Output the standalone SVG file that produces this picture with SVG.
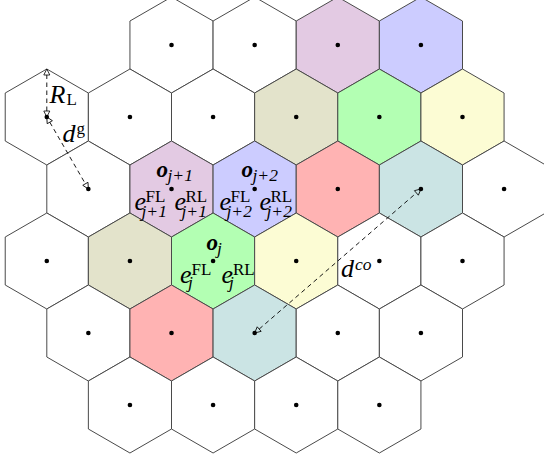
<svg xmlns="http://www.w3.org/2000/svg" xmlns:xlink="http://www.w3.org/1999/xlink" width="544" height="461" viewBox="0 0 544 461">
<style>
.hx{stroke:#4a4a4a;stroke-width:1}
.w{fill:#ffffff}.pu{fill:#E3CAE3}.bl{fill:#CCCCFF}.ol{fill:#E3E3CB}.gr{fill:#B3FFB3}.ye{fill:#FCFCD4}.re{fill:#FFB3B3}.te{fill:#CBE4E4}
.dot{fill:#000}
.conn path{fill:none;stroke:#000;stroke-width:0.9;stroke-dasharray:4.5 3.5}
text{font-family:"Liberation Serif","Times New Roman",serif;fill:#000}
.m{font-style:italic;font-size:26px}
.b{font-style:italic;font-weight:bold;font-size:23px}
.s{font-style:normal;font-weight:normal;font-size:17px}
.si{font-style:italic;font-weight:normal;font-size:17.5px}
</style>
<defs>
<polygon id="hex" points="0,-48 41.57,-24 41.57,24 0,48 -41.57,24 -41.57,-24"/>
<marker id="ah" viewBox="-1 -4 9 8" refX="0" refY="0" markerWidth="9" markerHeight="8" markerUnits="userSpaceOnUse" orient="auto-start-reverse">
<path d="M0,-3 L6,0 L0,3 Z" fill="none" stroke="#000" stroke-width="0.8" stroke-dasharray="none"/>
</marker>
</defs>
<g id="cells">
<g id="c0-1" transform="translate(171.51,45)"><use xlink:href="#hex" class="hx w"/><circle class="dot" r="2.3"/></g>
<g id="c0-2" transform="translate(254.65,45)"><use xlink:href="#hex" class="hx w"/><circle class="dot" r="2.3"/></g>
<g id="c0-3" transform="translate(337.79,45)"><use xlink:href="#hex" class="hx pu"/><circle class="dot" r="2.3"/></g>
<g id="c0-4" transform="translate(420.93,45)"><use xlink:href="#hex" class="hx bl"/><circle class="dot" r="2.3"/></g>
<g id="c1-0" transform="translate(46.8,117)"><use xlink:href="#hex" class="hx w"/><circle class="dot" r="2.3"/></g>
<g id="c1-1" transform="translate(129.94,117)"><use xlink:href="#hex" class="hx w"/><circle class="dot" r="2.3"/></g>
<g id="c1-2" transform="translate(213.08,117)"><use xlink:href="#hex" class="hx w"/><circle class="dot" r="2.3"/></g>
<g id="c1-3" transform="translate(296.22,117)"><use xlink:href="#hex" class="hx ol"/><circle class="dot" r="2.3"/></g>
<g id="c1-4" transform="translate(379.36,117)"><use xlink:href="#hex" class="hx gr"/><circle class="dot" r="2.3"/></g>
<g id="c1-5" transform="translate(462.5,117)"><use xlink:href="#hex" class="hx ye"/><circle class="dot" r="2.3"/></g>
<g id="c2-0" transform="translate(88.37,189)"><use xlink:href="#hex" class="hx w"/><circle class="dot" r="2.3"/></g>
<g id="c2-1" transform="translate(171.51,189)"><use xlink:href="#hex" class="hx pu"/><circle class="dot" r="2.3"/></g>
<g id="c2-2" transform="translate(254.65,189)"><use xlink:href="#hex" class="hx bl"/><circle class="dot" r="2.3"/></g>
<g id="c2-3" transform="translate(337.79,189)"><use xlink:href="#hex" class="hx re"/><circle class="dot" r="2.3"/></g>
<g id="c2-4" transform="translate(420.93,189)"><use xlink:href="#hex" class="hx te"/><circle class="dot" r="2.3"/></g>
<g id="c2-5" transform="translate(504.07,189)"><use xlink:href="#hex" class="hx w"/><circle class="dot" r="2.3"/></g>
<g id="c3-0" transform="translate(46.8,261)"><use xlink:href="#hex" class="hx w"/><circle class="dot" r="2.3"/></g>
<g id="c3-1" transform="translate(129.94,261)"><use xlink:href="#hex" class="hx ol"/><circle class="dot" r="2.3"/></g>
<g id="c3-2" transform="translate(213.08,261)"><use xlink:href="#hex" class="hx gr"/><circle class="dot" r="2.3"/></g>
<g id="c3-3" transform="translate(296.22,261)"><use xlink:href="#hex" class="hx ye"/><circle class="dot" r="2.3"/></g>
<g id="c3-4" transform="translate(379.36,261)"><use xlink:href="#hex" class="hx w"/><circle class="dot" r="2.3"/></g>
<g id="c3-5" transform="translate(462.5,261)"><use xlink:href="#hex" class="hx w"/><circle class="dot" r="2.3"/></g>
<g id="c4-0" transform="translate(88.37,333)"><use xlink:href="#hex" class="hx w"/><circle class="dot" r="2.3"/></g>
<g id="c4-1" transform="translate(171.51,333)"><use xlink:href="#hex" class="hx re"/><circle class="dot" r="2.3"/></g>
<g id="c4-2" transform="translate(254.65,333)"><use xlink:href="#hex" class="hx te"/><circle class="dot" r="2.3"/></g>
<g id="c4-3" transform="translate(337.79,333)"><use xlink:href="#hex" class="hx w"/><circle class="dot" r="2.3"/></g>
<g id="c4-4" transform="translate(420.93,333)"><use xlink:href="#hex" class="hx w"/><circle class="dot" r="2.3"/></g>
<g id="c5-1" transform="translate(129.94,405)"><use xlink:href="#hex" class="hx w"/><circle class="dot" r="2.3"/></g>
<g id="c5-2" transform="translate(213.08,405)"><use xlink:href="#hex" class="hx w"/><circle class="dot" r="2.3"/></g>
<g id="c5-3" transform="translate(296.22,405)"><use xlink:href="#hex" class="hx w"/><circle class="dot" r="2.3"/></g>
<g id="c5-4" transform="translate(379.36,405)"><use xlink:href="#hex" class="hx w"/><circle class="dot" r="2.3"/></g>
</g>
<g id="connectors" class="conn">
<path id="arrow-RL" d="M46.8,111 L46.8,75" marker-start="url(#ah)" marker-end="url(#ah)"/>
<path id="arrow-dg" d="M49.8,122.2 L85.37,183.8" marker-start="url(#ah)" marker-end="url(#ah)"/>
<path id="arrow-dco" d="M259.19,329.07 L416.39,192.93" marker-start="url(#ah)" marker-end="url(#ah)"/>
</g>
<g id="labels">
<text class="m" x="49.5" y="103">R<tspan class="s" x="66.5" y="104.5">L</tspan></text>
<text class="m" x="62.5" y="141.7">d<tspan class="s" x="76.5" y="134">g</tspan></text>
<text class="m" x="341" y="276.7">d<tspan class="si" x="355" y="269.5">co</tspan></text>
<text class="b" x="156.5" y="176.7">o<tspan class="si" x="167.5" y="181">j+1</tspan></text>
<text class="m" x="134.5" y="210">e<tspan class="s" x="145.5" y="201.5">FL</tspan><tspan class="si" x="141.5" y="216.5">j+1</tspan></text>
<text class="m" x="174.5" y="210">e<tspan class="s" x="185.5" y="201.5">RL</tspan><tspan class="si" x="181.5" y="216.5">j+1</tspan></text>
<text class="b" x="241.5" y="176.7">o<tspan class="si" x="252.5" y="181">j+2</tspan></text>
<text class="m" x="219.5" y="210">e<tspan class="s" x="230.5" y="201.5">FL</tspan><tspan class="si" x="226.5" y="216.5">j+2</tspan></text>
<text class="m" x="259.5" y="210">e<tspan class="s" x="270.5" y="201.5">RL</tspan><tspan class="si" x="266.5" y="216.5">j+2</tspan></text>
<text class="b" x="206.5" y="249.7">o<tspan class="si" x="217" y="254">j</tspan></text>
<text class="m" x="180" y="283">e<tspan class="s" x="191.5" y="274.5">FL</tspan><tspan class="si" x="188" y="288">j</tspan></text>
<text class="m" x="221.5" y="283">e<tspan class="s" x="233" y="274.5">RL</tspan><tspan class="si" x="229" y="288">j</tspan></text>
</g>
</svg>
